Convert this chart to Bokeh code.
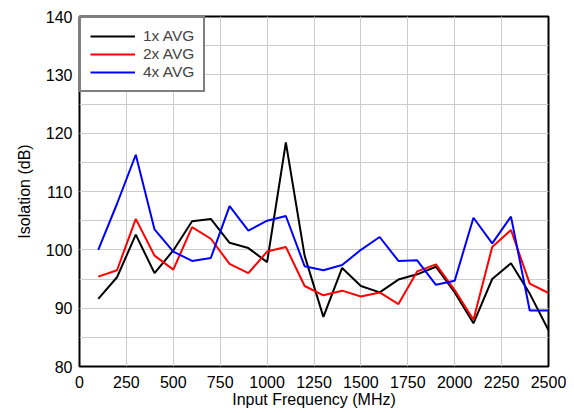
from bokeh.plotting import figure
from bokeh.models import SingleIntervalTicker, Legend, LegendItem
from bokeh.embed import file_html
from bokeh.resources import INLINE

freq = [100, 200, 300, 400, 500, 600, 700, 800, 900, 1000, 1100, 1200, 1300,
        1400, 1500, 1600, 1700, 1800, 1900, 2000, 2100, 2200, 2300, 2400, 2500]
avg1 = [91.6, 95.3, 102.6, 96.0, 99.9, 104.9, 105.3, 101.2, 100.3, 97.9, 118.4, 99.0, 88.5,
        96.9, 93.8, 92.7, 94.9, 95.8, 97.1, 92.7, 87.4, 95.0, 97.7, 92.5, 86.2]
avg2 = [95.4, 96.5, 105.3, 99.0, 96.6, 103.9, 101.9, 97.6, 96.0, 99.7, 100.5, 93.8, 92.2,
        93.0, 92.0, 92.7, 90.7, 96.3, 97.5, 93.1, 88.0, 100.5, 103.4, 94.2, 92.6]
avg4 = [100.0, 107.9, 116.3, 103.5, 99.7, 98.1, 98.6, 107.5, 103.3, 105.0, 105.8, 97.2, 96.5,
        97.4, 100.0, 102.2, 98.1, 98.2, 94.0, 94.7, 105.5, 101.1, 105.7, 89.6, 89.6]
series = [("1x AVG", avg1, "black"), ("2x AVG", avg2, "red"), ("4x AVG", avg4, "blue")]

FONT = "Liberation Sans"

p = figure(frame_width=469, frame_height=350, output_backend="svg", toolbar_location=None,
           x_range=(0, 2500), y_range=(80, 140),
           min_border_left=79, min_border_right=18, min_border_top=16, min_border_bottom=44)

p.outline_line_color = "black"
p.outline_line_width = 2
p.background_fill_color = "white"
p.border_fill_color = "white"

p.xaxis.ticker = SingleIntervalTicker(interval=250, num_minor_ticks=0)
p.yaxis.ticker = SingleIntervalTicker(interval=10, num_minor_ticks=2)

for ax in (p.xaxis[0], p.yaxis[0]):
    ax.axis_line_color = None
    ax.major_tick_line_color = None
    ax.minor_tick_line_color = None
    ax.major_tick_out = 0
    ax.major_tick_in = 0
    ax.minor_tick_out = 0
    ax.minor_tick_in = 0
    ax.major_label_text_font = FONT
    ax.major_label_text_font_size = "16px"
    ax.major_label_text_color = "black"
    ax.axis_label_text_font = FONT
    ax.axis_label_text_font_size = "16px"
    ax.axis_label_text_font_style = "normal"
    ax.axis_label_text_color = "black"

p.xaxis.axis_label = "Input Frequency (MHz)"
p.yaxis.axis_label = "Isolation (dB)"
p.xaxis.major_label_standoff = 9
p.xaxis.axis_label_standoff = 0
p.yaxis.major_label_standoff = 7
p.yaxis.axis_label_standoff = 10

p.xgrid.grid_line_color = "#cccccc"
p.ygrid.grid_line_color = "#cccccc"
p.ygrid.minor_grid_line_color = "#cccccc"
p.xgrid.grid_line_width = 1
p.ygrid.grid_line_width = 1

items = []
for name, vals, col in series:
    r = p.line(freq, vals, line_color=col, line_width=2)
    items.append(LegendItem(label=name, renderers=[r]))

legend = Legend(items=items, location="top_left", margin=0,
                border_line_color="black", border_line_width=2,
                background_fill_alpha=1.0,
                label_text_font=FONT, label_text_font_size="15.5px",
                glyph_width=45, glyph_height=18, label_height=18,
                label_standoff=8, spacing=0, padding=9)
p.add_layout(legend)

open("out.html", "w").write(file_html(p, INLINE))
